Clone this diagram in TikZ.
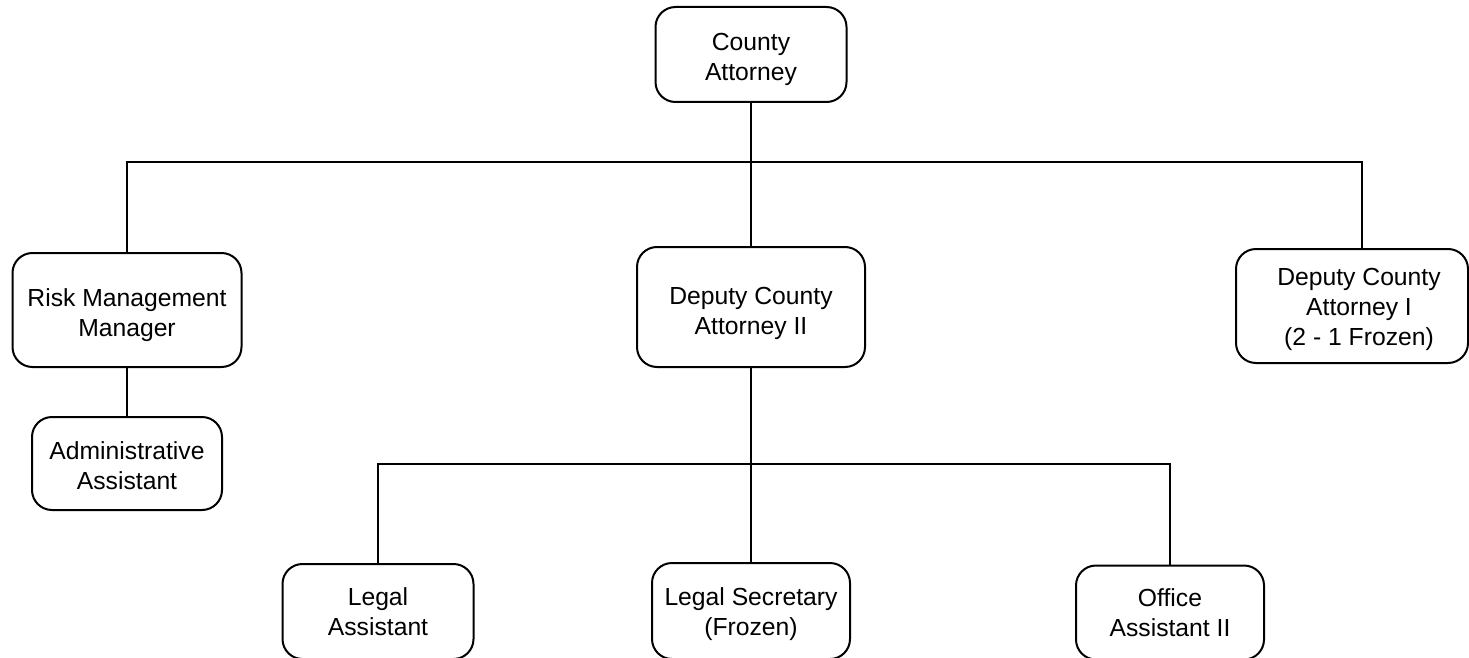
\documentclass[tikz,border=0pt]{standalone}
\usepackage{fontspec}
\setmainfont{Liberation Sans}
% box text: centred lines, set a little below the middle of the box
\newcommand\orgtext[2][5pt]{\raisebox{-#1}[\height][\depth]{\begin{tabular}{@{}c@{}}#2\end{tabular}}}
\begin{document}
\begin{tikzpicture}[x=1pt,y=-1pt,
  orgbox/.style={draw, line width=2pt, rounded corners=20pt, inner sep=0pt,
    align=center, font=\fontsize{24.7}{30}\selectfont},
  link/.style={line width=2pt, line cap=rect}]
  \path[use as bounding box, clip] (0,0) rectangle (1469,658);
  % positions
  \node[orgbox, minimum width=191pt, minimum height=95pt]  (ca)   at (751,54.5)   {\orgtext{County\\Attorney}};
  \node[orgbox, minimum width=229pt, minimum height=114pt] (rm)   at (127,310)    {\orgtext{Risk Management\\Manager}};
  \node[orgbox, minimum width=228pt, minimum height=120pt] (dca2) at (751,307)    {\orgtext[6pt]{Deputy County\\Attorney II}};
  \node[orgbox, minimum width=232pt, minimum height=114pt] (dca1) at (1352,306)   {\hspace*{14pt}\orgtext[3pt]{Deputy County\\Attorney I\\(2 - 1 Frozen)}};
  \node[orgbox, minimum width=190pt, minimum height=93pt]  (adm)  at (127,463.5)  {\orgtext{Administrative\\Assistant}};
  \node[orgbox, minimum width=191pt, minimum height=95pt]  (la)   at (378,611.5)  {\orgtext[3pt]{Legal\\Assistant}};
  \node[orgbox, minimum width=198pt, minimum height=96pt]  (ls)   at (751,611)    {\orgtext[3pt]{Legal Secretary\\(Frozen)}};
  \node[orgbox, minimum width=188pt, minimum height=94pt]  (oa)   at (1170,612.5) {\orgtext[3pt]{Office\\Assistant II}};
  % bus junctions
  \coordinate (j1) at (751,162);
  \coordinate (t1) at (1362,162);
  \coordinate (j2) at (751,464);
  % top level
  \draw[link] (ca.south) -- (ca.south |- j1);
  \draw[link] (rm.north) |- (t1) -- (t1 |- dca1.north);
  \draw[link] (j1) -- (dca2.north);
  % risk management branch
  \draw[link] (rm.south) -- (adm.north);
  % deputy county attorney II branch
  \draw[link] (dca2.south) -- (ls.north);
  \draw[link] (la.north) |- (j2) -| (oa.north);
\end{tikzpicture}
\end{document}
